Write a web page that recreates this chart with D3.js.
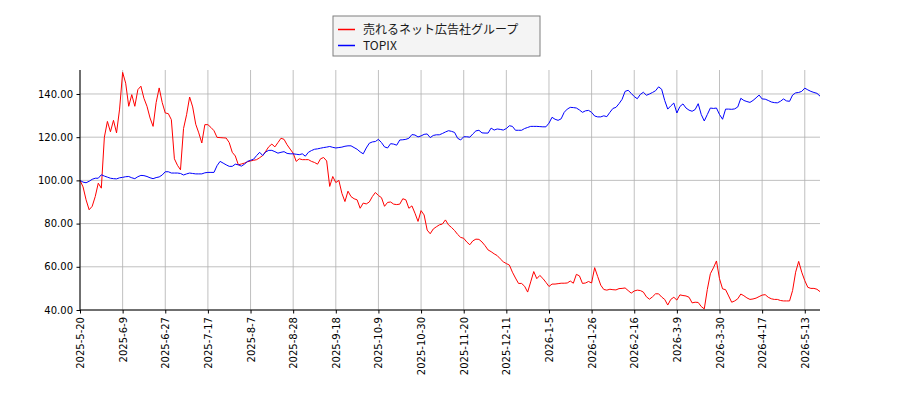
<!DOCTYPE html>
<html>
<head>
<meta charset="utf-8">
<script src="https://cdn.jsdelivr.net/npm/d3@7"></script>
<style>
  body { margin: 0; background: #fff; }
  svg { display: block; }
</style>
</head>
<body>
<svg id="chart" width="900" height="400"></svg>
<script>
// series values, one per trading day (index 0 = 2025-5-20)
const stockName = '売れるネット広告社グループ'
const indexName = 'TOPIX'

const stockValues = [
  100, 97, 91, 86.4, 88, 92.5, 98.7, 96.4, 120, 127.3,
  122.5, 127.8, 122, 133, 150, 145, 134.3, 139.7, 134.3, 142,
  143.6, 138, 134.3, 128.9, 125, 136, 142.8, 136, 131.2, 130.9,
  128.1, 110, 107, 104.9, 124, 130.4, 138.6, 134, 126, 122,
  117.3, 125.8, 125.8, 124.5, 123, 119.9, 119.8, 119.7, 119.6, 117.5,
  113, 111.3, 107.2, 107.6, 108, 108.6, 109, 109.3, 109.6, 110.5,
  111.5, 113.5, 115.6, 116.8, 115.5, 117.5, 119.5, 119, 116.5, 114.5,
  112.6, 108.8, 110, 109.6, 109.6, 109.6, 108.8, 108.3, 107.5, 110,
  110.6, 109, 97.2, 101.8, 99, 100, 94, 90.2, 95, 92.5,
  91.5, 91, 87.1, 89.5, 89.1, 90, 92.5, 94.4, 93, 92,
  88, 89.8, 90, 89, 88.8, 89, 91.5, 91, 87.1, 88.2,
  84.8, 81, 86, 84, 77, 75.3, 77.5, 78.5, 79.4, 79.8,
  81.7, 79.4, 78.2, 76.8, 75, 73.6, 73.2, 71.5, 70.2, 72,
  72.8, 72.7, 71.5, 69.8, 67.8, 67, 66, 65.2, 63.7, 62.3,
  61.5, 60.8, 57.5, 54.8, 52.3, 52.3, 51, 48.3, 53, 57.8,
  54.5, 56, 54.6, 52.8, 50.9, 52, 52, 52.2, 52.4, 52.4,
  52.5, 53.4, 52.4, 56.5, 55.8, 52.3, 52.5, 53.2, 52.5, 59.6,
  55.5, 51.5, 49.5, 49.2, 49.6, 49.4, 49.3, 49.9, 50, 50.2,
  49, 47.8, 48.8, 49.2, 49, 48.3, 46.1, 45, 46.1, 47.5,
  47.5, 46, 44.9, 42.3, 44.9, 45.9, 44.6, 47, 46.7, 46.5,
  45.9, 43.3, 43.6, 43.5, 41.6, 40.5, 49.5, 56.8, 59.5, 62.7,
  54.5, 49.8, 49.4, 46.5, 43.6, 44.2, 45.2, 47.4, 46.6, 45.6,
  44.9, 45.1, 45.5, 46.2, 46.9, 47.1, 45.9, 45.2, 44.9, 44.9,
  44.4, 44.2, 44.2, 44.2, 49, 57.5, 62.5, 57.5, 53.6, 50.5,
  50, 50, 49.6, 48.5
]

const indexValues = [
  100, 99.2, 98.9, 99.6, 100.5, 101, 101, 102.6, 102, 101.5,
  101, 100.8, 100.7, 101.2, 101.4, 101.7, 101.8, 101.2, 100.8, 101.7,
  102.3, 102.2, 101.8, 101.2, 100.8, 101.3, 101.6, 102.5, 104, 104,
  103.4, 103.4, 103.4, 103.2, 102.5, 103, 103.4, 103.2, 103, 103,
  103, 103.5, 103.7, 103.7, 103.7, 106.8, 108.8, 108, 107.2, 106.5,
  106.5, 107.5, 107.2, 106.6, 107.5, 108.8, 109.3, 109.8, 111.5, 113,
  111.5, 113.2, 113.9, 113.9, 113.3, 112.6, 113, 113.3, 112.5, 112.3,
  112.3, 112.1, 111.9, 112.3, 111.2, 113, 113.8, 114.4, 114.6, 114.9,
  115.2, 115.4, 115.7, 115.3, 115, 115.2, 115.4, 115.8, 116, 116,
  115.2, 114.4, 113.2, 112.3, 115, 117.2, 117.8, 118, 119, 117.5,
  115.5, 115, 117, 116.8, 116.3, 118.7, 118.8, 119, 119.5, 121.2,
  121, 120.1, 120.6, 121.3, 121.5, 119.8, 120.8, 121.1, 121.1, 121.7,
  122.4, 123, 122.7, 122.2, 119.5, 118.7, 120.2, 120.2, 120, 121.5,
  122.9, 123.2, 122, 121.9, 121.9, 124.2, 123.3, 123.8, 123.6, 123.3,
  124, 125.3, 125, 123.2, 123.2, 123.2, 124, 124.5, 125, 125,
  125, 124.9, 124.8, 124.8, 126.5, 129.2, 128.3, 127.8, 128.5, 131.5,
  133, 133.8, 133.7, 133.5, 132.6, 131.5, 132.2, 132.4, 131.5, 129.8,
  129.4, 129.4, 129.9, 129.5, 131.5, 133.3, 133.8, 135.5, 137.5, 141.2,
  141.7, 140.3, 138.8, 137.8, 139.8, 140.8, 139.4, 140, 140.7, 141.5,
  143.3, 142.2, 137, 133, 134.5, 135.8, 131.2, 134.2, 135.4, 133.5,
  132.5, 132, 132.8, 135.5, 130.5, 127.5, 130.5, 133.5, 133.3, 133.5,
  130.5, 128.3, 133, 133, 132.9, 133.1, 134, 138, 137, 136.5,
  136.1, 137, 138.2, 139.5, 137.7, 137.6, 137, 136.3, 136, 135.9,
  136.6, 137.7, 136.8, 136.6, 139.5, 140.5, 140.7, 141.2, 142.7, 141.9,
  141.2, 140.7, 140.3, 139
]

// x tick labels and the trading-day index each sits on
const tickDays = [0, 14, 28, 42, 56, 70, 84, 98, 112, 126, 140, 154, 168, 182, 196, 210, 224, 238]
const tickLabels = [
  '2025-5-20', '2025-6-9', '2025-6-27', '2025-7-17', '2025-8-7', '2025-8-28',
  '2025-9-18', '2025-10-9', '2025-10-30', '2025-11-20', '2025-12-11', '2026-1-5',
  '2026-1-26', '2026-2-16', '2026-3-9', '2026-3-30', '2026-4-17', '2026-5-13'
]
const yTicks = [40, 60, 80, 100, 120, 140]

const margin = { left: 80, right: 80, top: 70, bottom: 90 }
const width = 900, height = 400
const svg = d3.select('#chart')

const x = d3.scaleLinear()
  .domain([0, stockValues.length - 1])
  .range([margin.left, width - margin.right])
const y = d3.scaleLinear()
  .domain([40, 151.1])
  .range([height - margin.bottom, margin.top])

// grid
const grid = svg.append('g').attr('class', 'grid')
grid.selectAll('line.gx').data(tickDays).enter()
  .append('line')
  .attr('class', 'gx')
  .attr('x1', d => x(d)).attr('x2', d => x(d))
  .attr('y1', y.range()[0]).attr('y2', y.range()[1])
  .attr('stroke', '#b0b0b0').attr('stroke-width', 0.8)
grid.selectAll('line.gy').data(yTicks).enter()
  .append('line')
  .attr('class', 'gy')
  .attr('x1', x.range()[0]).attr('x2', x.range()[1])
  .attr('y1', d => y(d)).attr('y2', d => y(d))
  .attr('stroke', '#b0b0b0').attr('stroke-width', 0.8)

// lines
const line = d3.line()
  .x((d, i) => x(i))
  .y(d => y(d))

svg.append('path')
  .datum(stockValues)
  .attr('d', line)
  .attr('fill', 'none')
  .attr('stroke', '#ff0000')
  .attr('stroke-width', 1)
  .attr('stroke-linejoin', 'round')

svg.append('path')
  .datum(indexValues)
  .attr('d', line)
  .attr('fill', 'none')
  .attr('stroke', '#0000ff')
  .attr('stroke-width', 1)
  .attr('stroke-linejoin', 'round')

// axes
const xAxis = d3.axisBottom(x)
  .tickValues(tickDays)
  .tickFormat((d, i) => tickLabels[i])
  .tickSizeOuter(0)
  .tickSize(3.5)
  .tickPadding(3.5)

const gx = svg.append('g')
  .attr('transform', `translate(0,${y.range()[0]})`)
  .call(xAxis)
  .attr('font-family', '"DejaVu Sans", sans-serif')
  .attr('font-size', 10)
gx.select('.domain').attr('stroke', '#000').attr('stroke-width', 1)
  .attr('d', `M${x.range()[0]},0H${x.range()[1]}`)
gx.selectAll('.tick line').attr('stroke', '#000')
gx.selectAll('.tick text')
  .attr('fill', '#000')
  .attr('transform', 'rotate(-90)')
  .attr('text-anchor', 'end')
  .attr('x', -7)
  .attr('y', 0)
  .attr('dy', '0.35em')

const yAxis = d3.axisLeft(y)
  .tickValues(yTicks)
  .tickFormat(d3.format('.2f'))
  .tickSizeOuter(0)
  .tickSize(3.5)
  .tickPadding(3.5)

const gy = svg.append('g')
  .attr('transform', `translate(${x.range()[0]},0)`)
  .call(yAxis)
  .attr('font-family', '"DejaVu Sans", sans-serif')
  .attr('font-size', 10)
gy.select('.domain').attr('stroke', '#000').attr('stroke-width', 1)
  .attr('d', `M0,${y.range()[0]}V${y.range()[1]}`)
gy.selectAll('.tick line').attr('stroke', '#000')
gy.selectAll('.tick text').attr('fill', '#000')

// legend
const legend = svg.append('g').attr('transform', 'translate(333,16)')
legend.append('rect')
  .attr('width', 207).attr('height', 40)
  .attr('fill', '#f4f4f4')
  .attr('stroke', '#7f7f7f')
  .attr('stroke-width', 1)

const entries = [
  { name: stockName, color: '#ff0000' },
  { name: indexName, color: '#0000ff' }
]
entries.forEach((e, i) => {
  const cy = 13.5 + i * 16
  legend.append('line')
    .attr('x1', 5).attr('x2', 22)
    .attr('y1', cy).attr('y2', cy)
    .attr('stroke', e.color).attr('stroke-width', 1.5)
  legend.append('text')
    .attr('x', 30).attr('y', cy + 4.5)
    .attr('font-family', '"Noto Sans CJK JP", sans-serif')
    .attr('font-size', 12)
    .attr('fill', '#1a1a1a')
    .text(e.name)
})
</script>
</body>
</html>
